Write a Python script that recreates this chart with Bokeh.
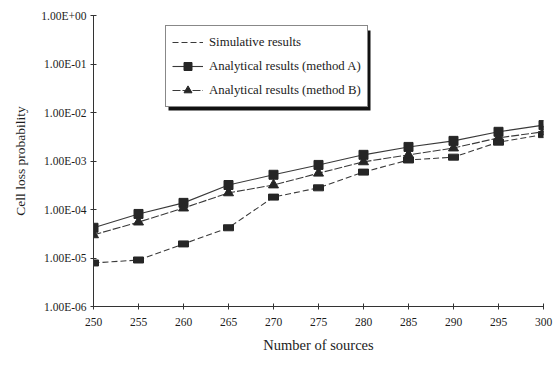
from bokeh.plotting import figure
from bokeh.models import (Legend, LegendItem, FixedTicker, CustomJSTickFormatter,
                          Range1d, BoxAnnotation)
from bokeh.embed import file_html
from bokeh.resources import INLINE

# Number of sources on the x axis
sources = [250, 255, 260, 265, 270, 275, 280, 285, 290, 295, 300]

# Cell loss probability for each series
simulative = [7.9e-6, 9.1e-6, 1.95e-5, 4.2e-5, 1.8e-4, 2.8e-4, 5.9e-4,
              1.05e-3, 1.2e-3, 2.45e-3, 3.5e-3]
method_a = [4.2e-5, 8.1e-5, 1.37e-4, 3.2e-4, 5.2e-4, 8.3e-4, 1.34e-3,
            1.95e-3, 2.6e-3, 4.0e-3, 5.5e-3]
method_b = [3.0e-5, 5.5e-5, 1.07e-4, 2.2e-4, 3.2e-4, 5.6e-4, 9.6e-4,
            1.34e-3, 1.85e-3, 3.0e-3, 4.0e-3]

y_ticks = [1e-6, 1e-5, 1e-4, 1e-3, 1e-2, 1e-1, 1e0]
x_ticks = sources

FONT = "Liberation Serif"
INK = "#1c1c1c"

p = figure(width=553, height=369, y_axis_type="log",
           x_range=Range1d(250, 300), y_range=Range1d(1e-6, 1.0),
           output_backend="svg", toolbar_location=None,
           min_border_left=93, min_border_right=10,
           min_border_top=15, min_border_bottom=63)
p.outline_line_color = None
p.xgrid.visible = False
p.ygrid.visible = False
p.background_fill_color = "white"
p.border_fill_color = "white"

# Axes
for ax in (p.xaxis[0], p.yaxis[0]):
    ax.axis_line_color = "#333333"
    ax.axis_line_width = 1
    ax.major_tick_line_color = "#333333"
    ax.major_tick_in = 3
    ax.major_tick_out = 3
    ax.minor_tick_line_color = None
    ax.major_label_text_font = FONT
    ax.major_label_text_color = INK
    ax.axis_label_text_font = FONT
    ax.axis_label_text_color = INK
    ax.axis_label_text_font_style = "normal"

p.xaxis.ticker = FixedTicker(ticks=x_ticks)
p.xaxis.major_label_text_font_size = "11.5px"
p.xaxis.major_label_standoff = 8
p.xaxis.axis_label = "Number of sources"
p.xaxis.axis_label_text_font_size = "14.5px"
p.xaxis.axis_label_standoff = 8

p.yaxis.ticker = FixedTicker(ticks=y_ticks)
p.yaxis.formatter = CustomJSTickFormatter(code="""
    const e = Math.round(Math.log10(tick));
    const s = e < 0 ? '-' : '+';
    return '1.00E' + s + String(Math.abs(e)).padStart(2, '0');
""")
p.yaxis.major_label_text_font_size = "11.5px"
p.yaxis.major_label_standoff = 4
p.yaxis.axis_label = "Cell loss probability"
p.yaxis.axis_label_text_font_size = "13.5px"
p.yaxis.axis_label_standoff = 10

LINE = "#3a3a3a"
MARK = "#262626"

# Simulative results: dashed line with small block markers
sim_line = p.line(sources, simulative, line_color=LINE, line_width=1.1,
                  line_dash="6 3")
p.rect(sources, simulative, width=10, height=6, width_units="screen",
       height_units="screen", fill_color=MARK, line_color=MARK)

# Analytical results, method A: solid line with squares
a_line = p.line(sources, method_a, line_color=LINE, line_width=1.1)
a_mark = p.scatter(sources, method_a, marker="square", size=9,
                   fill_color=MARK, line_color=MARK)

# Analytical results, method B: dashed line with triangles
b_line = p.line(sources, method_b, line_color=LINE, line_width=1.1,
                line_dash="8 2")
b_mark = p.scatter(sources, method_b, marker="triangle", size=10,
                   fill_color=MARK, line_color=MARK)

# Dark block just behind the legend for its heavy lower-right edge
# (screen offsets from the frame's lower-left corner)
p.add_layout(BoxAnnotation(left=75, right=277, top=276, bottom=196,
                           left_units="screen", right_units="screen",
                           top_units="screen", bottom_units="screen",
                           fill_color="#111111", fill_alpha=1.0,
                           line_color=None))

legend = Legend(items=[
    LegendItem(label="Simulative results", renderers=[sim_line]),
    LegendItem(label="Analytical results (method A)",
               renderers=[a_line, a_mark]),
    LegendItem(label="Analytical results (method B)",
               renderers=[b_line, b_mark]),
], location=(72, 199), margin=0, padding=6, spacing=4,
    label_height=20, glyph_height=20, glyph_width=31,
    label_standoff=6, label_text_font=FONT,
    label_text_font_size="12.8px", label_text_color=INK,
    border_line_color="#111111", border_line_width=1.2,
    background_fill_color="white", background_fill_alpha=1.0)
p.add_layout(legend)

open("out.html", "w").write(file_html(p, INLINE))
